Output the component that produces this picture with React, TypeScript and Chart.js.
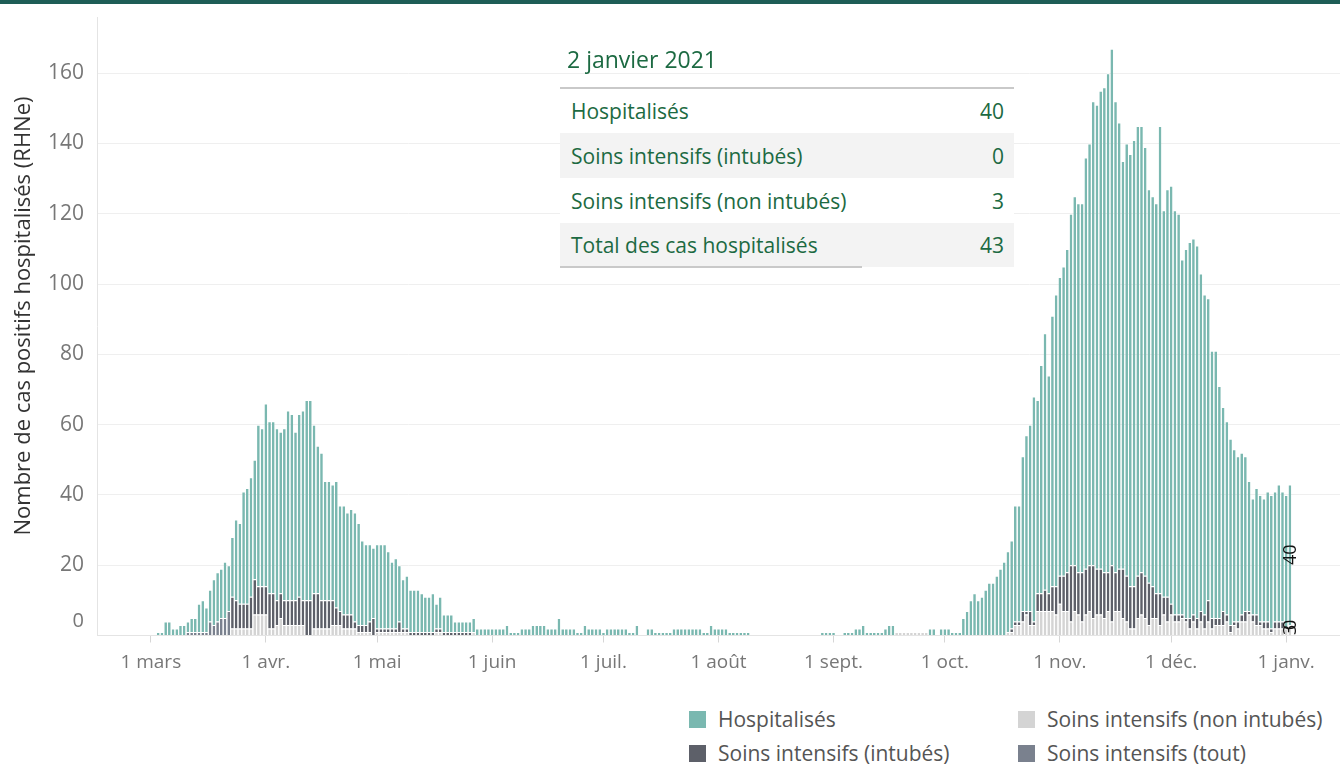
import React, { useEffect, useRef } from "react";
import { Chart, registerables } from "chart.js";

Chart.register(...registerables);

const FONT = "'Open Sans', 'Noto Sans', sans-serif";

// Categories: one per day, from 16 Feb 2020 for DAY_COUNT days
const FIRST_DAY = [2020, 1, 16];
const DAY_COUNT = 335;

const MONTH_TICKS = ["1 janv.", "1 févr.", "1 mars", "1 avr.", "1 mai", "1 juin", "1 juil.", "1 août", "1 sept.", "1 oct.", "1 nov.", "1 déc."];
const MONTH_NAMES = ["janvier", "février", "mars", "avril", "mai", "juin", "juillet", "août", "septembre", "octobre", "novembre", "décembre"];

const Y_TICKS = [0, 20, 40, 60, 80, 100, 120, 140, 160];
const Y_MAX = 176;
const Y_TITLE = "Nombre de cas positifs hospitalisés (RHNe)";

// Daily values, one line per month (févr. 16-29, mars ... janv. 1-2)
const HOSPITALISES = [
  0,0,0,0,0,0,0,0,0,0,0,0,0,0,
  0,0,1,1,4,4,2,2,3,3,3,4,4,8,9,7,9,13,14,14,16,13,17,23,23,32,33,34,34,46,45,
  52,49,49,49,46,49,54,53,48,52,54,57,57,48,42,42,34,34,33,36,30,31,29,30,31,29,24,23,22,20,
  24,24,24,22,19,20,16,14,15,12,12,12,11,10,10,11,7,9,5,5,5,3,3,3,3,3,4,2,2,2,2,
  2,2,2,2,3,1,1,1,2,2,2,3,3,3,3,2,2,2,5,2,2,2,2,1,1,3,2,2,2,2,
  1,2,2,2,2,2,2,1,1,3,0,0,2,2,1,1,1,1,1,2,2,2,2,2,2,2,2,1,1,3,2,
  2,2,2,1,1,1,1,1,1,0,0,0,0,0,0,0,0,0,0,0,0,0,0,0,0,0,0,0,1,1,1,
  1,0,0,1,1,1,2,2,3,1,1,1,1,1,2,3,3,0,0,0,0,0,0,0,0,0,2,2,0,2,
  2,2,1,1,1,5,7,10,12,10,11,13,15,15,17,19,21,23,25,33,33,44,50,53,64,55,65,73,62,77,83,
  85,88,92,100,105,105,105,117,120,132,132,136,138,142,147,134,127,116,123,123,127,128,127,122,112,111,111,133,110,116,
  119,115,114,101,105,107,107,106,96,91,86,76,76,66,58,55,53,49,47,46,44,37,33,36,36,35,37,38,37,39,37,
  38,40,
];

const INTUBES = [
  0,0,0,0,0,0,0,0,0,0,0,0,0,0,
  0,0,0,0,0,0,0,0,0,0,0,0,0,0,0,0,0,0,0,0,0,0,9,8,7,7,7,9,10,8,8,
  8,10,10,7,7,7,7,7,7,8,7,10,10,10,10,8,8,8,7,5,4,4,4,4,2,2,2,2,3,5,
  1,1,1,1,1,1,3,1,1,1,1,1,1,1,1,1,1,1,1,1,1,1,1,1,1,1,0,0,0,0,0,
  0,0,0,0,0,0,0,0,0,0,0,0,0,0,0,0,0,0,0,0,0,0,0,0,0,0,0,0,0,0,
  0,0,0,0,0,0,0,0,0,0,0,0,0,0,0,0,0,0,0,0,0,0,0,0,0,0,0,0,0,0,0,
  0,0,0,0,0,0,0,0,0,0,0,0,0,0,0,0,0,0,0,0,0,0,0,0,0,0,0,0,0,0,0,
  0,0,0,0,0,0,0,0,0,0,0,0,0,0,0,0,0,0,0,0,0,0,0,0,0,0,0,0,0,0,
  0,0,0,0,0,0,0,0,0,0,0,0,0,0,0,0,0,0,1,1,1,3,1,4,1,5,5,6,5,7,8,
  8,10,11,16,13,12,14,13,13,15,13,13,13,11,16,11,12,14,13,12,12,12,12,12,12,9,7,9,5,7,
  3,2,2,1,1,3,2,3,3,4,6,3,2,2,4,2,2,1,2,2,3,1,2,3,1,2,2,1,2,2,2,
  0,0,
];

const NON_INTUBES = [
  0,0,0,0,0,0,0,0,0,0,0,0,0,0,
  0,0,0,0,0,0,0,0,0,0,0,0,0,0,0,0,0,0,0,0,0,0,2,2,2,2,2,2,6,6,6,
  6,2,2,3,5,3,3,3,3,3,3,0,0,2,2,2,2,2,3,3,3,2,2,2,2,1,1,1,1,0,
  1,1,1,1,1,1,1,1,1,0,0,0,0,0,0,0,1,1,0,0,0,0,0,0,0,0,1,0,0,0,0,
  0,0,0,0,0,0,0,0,0,0,0,0,0,0,0,0,0,0,0,0,0,0,0,0,0,0,0,0,0,0,
  0,0,0,0,0,0,0,0,0,0,0,0,0,0,0,0,0,0,0,0,0,0,0,0,0,0,0,0,0,0,0,
  0,0,0,0,0,0,0,0,0,0,0,0,0,0,0,0,0,0,0,0,0,0,0,0,0,0,0,0,0,0,0,
  0,0,0,0,0,0,0,0,0,0,0,0,0,0,0,0,0,1,1,1,1,1,1,1,1,1,0,0,0,0,
  0,0,0,0,0,0,0,0,0,0,0,0,0,0,0,0,0,1,1,3,3,4,6,3,3,7,7,7,7,7,6,
  9,7,7,4,7,6,4,6,7,5,6,6,5,7,4,7,7,5,4,2,2,5,6,5,3,5,5,3,6,4,
  6,4,4,5,4,2,4,2,4,2,4,2,3,3,3,4,1,3,2,4,4,6,4,3,3,2,2,1,2,2,2,
  2,3,
];

const TOUT = [
  0,0,0,0,0,0,0,0,0,0,0,0,0,0,
  0,0,0,0,0,0,0,0,0,0,1,1,1,1,1,1,4,3,4,5,5,7,0,0,0,0,0,0,0,0,0,
];

const COL_HOSP = "#7ab8b0";
const COL_INTUB = "#5d6069";
const COL_NON = "#d4d4d4";
const COL_TOUT = "#7a818e";
const TEXT_GREEN = "#1c6a42";

const DAYS = Array.from({ length: DAY_COUNT }, (_, i) =>
  new Date(Date.UTC(FIRST_DAY[0], FIRST_DAY[1], FIRST_DAY[2] + i))
);
const LABELS = DAYS.map((d) => d.toISOString().slice(0, 10));
const TICK_TEXT = DAYS.map((d) => (d.getUTCDate() === 1 ? MONTH_TICKS[d.getUTCMonth()] : ""));

const CANVAS_W = 1340;
const CANVAS_H = 690;
const PLOT_BOTTOM = 635.5;

const overlayPlugin = {
  id: "overlay",
  afterDraw(chart: any) {
    const { ctx, scales } = chart;
    const y = scales.y;
    // axis title
    ctx.save();
    ctx.fillStyle = "#333";
    ctx.font = `22px ${FONT}`;
    ctx.translate(24, 316);
    ctx.rotate(-Math.PI / 2);
    ctx.textAlign = "center";
    ctx.textBaseline = "middle";
    ctx.fillText(Y_TITLE, 0, 0);
    ctx.restore();
    // zero tick label (raised above the baseline)
    ctx.save();
    ctx.fillStyle = "#777";
    ctx.font = `20px ${FONT}`;
    ctx.textAlign = "right";
    ctx.textBaseline = "middle";
    ctx.fillText("0", 84, y.getPixelForValue(0) - 14);
    ctx.restore();
    // mark labels on the last bar
    const last = HOSPITALISES.length - 1;
    const pairs: [number, number][] = [
      [0, NON_INTUBES[last]],
      [1, INTUBES[last]],
      [3, HOSPITALISES[last]],
    ];
    ctx.save();
    ctx.fillStyle = "#111";
    ctx.font = `18px ${FONT}`;
    ctx.textAlign = "center";
    ctx.textBaseline = "middle";
    for (const [ds, val] of pairs) {
      const el = chart.getDatasetMeta(ds).data[last];
      if (!el) continue;
      const cy = (el.y + el.base) / 2;
      ctx.save();
      ctx.translate(el.x + 1, cy);
      ctx.rotate(-Math.PI / 2);
      ctx.fillText(String(val), 0, 0);
      ctx.restore();
    }
    ctx.restore();
  },
};

export default function App() {
  const ref = useRef<HTMLCanvasElement>(null);

  useEffect(() => {
    document.body.style.margin = "0";
    Chart.defaults.font.family = FONT;
    const series = [
      { label: "Soins intensifs (non intubés)", data: NON_INTUBES, color: COL_NON },
      { label: "Soins intensifs (intubés)", data: INTUBES, color: COL_INTUB },
      { label: "Soins intensifs (tout)", data: TOUT, color: COL_TOUT },
      { label: "Hospitalisés", data: HOSPITALISES, color: COL_HOSP },
    ];
    const chart = new Chart(ref.current as HTMLCanvasElement, {
      type: "bar",
      data: {
        labels: LABELS,
        datasets: series.map((s) => ({
          label: s.label,
          data: s.data,
          backgroundColor: s.color,
          borderColor: "#ffffff",
          borderWidth: { top: 1, right: 0, bottom: 0, left: 0 },
          borderSkipped: false,
          barPercentage: 0.72,
          categoryPercentage: 1,
        })),
      },
      options: {
        responsive: false,
        animation: false,
        devicePixelRatio: 1,
        layout: { padding: { top: 17, left: 0, right: 0, bottom: 0 } },
        plugins: { legend: { display: false }, tooltip: { enabled: false } },
        scales: {
          x: {
            type: "category",
            stacked: true,
            offset: true,
            grid: {
              display: true,
              drawOnChartArea: false,
              drawTicks: true,
              tickLength: 7,
              offset: false,
              color: (c: any) => (TICK_TEXT[c.index] ? "#d6d6d6" : "rgba(0,0,0,0)"),
            },
            border: { display: true, color: "#e4e4e4" },
            ticks: {
              autoSkip: false,
              maxRotation: 0,
              minRotation: 0,
              padding: 9,
              color: "#777",
              font: { family: FONT, size: 19 },
              callback: (_v: any, i: number) => TICK_TEXT[i],
            },
            afterFit: (s: any) => {
              s.height = CANVAS_H - PLOT_BOTTOM;
              s.paddingLeft = 0;
              s.paddingRight = 0;
            },
          },
          y: {
            stacked: true,
            min: 0,
            max: Y_MAX,
            afterBuildTicks: (s: any) => {
              s.ticks = Y_TICKS.map((v) => ({ value: v }));
            },
            grid: { color: "#efefef", drawTicks: false, lineWidth: 1 },
            border: { display: true, color: "#e4e4e4" },
            ticks: {
              padding: 13,
              color: "#777",
              font: { family: FONT, size: 21 },
              callback: (v: any) => (v === 0 ? "" : String(v)),
            },
            afterFit: (s: any) => {
              s.width = 97;
              s.paddingTop = 0;
              s.paddingBottom = 0;
            },
          },
        },
      },
      plugins: [overlayPlugin],
    } as any);
    return () => chart.destroy();
  }, []);

  const last = HOSPITALISES.length - 1;
  const lastDay = DAYS[last];
  const title = `${lastDay.getUTCDate()} ${MONTH_NAMES[lastDay.getUTCMonth()]} ${lastDay.getUTCFullYear()}`;
  const rows: [string, number][] = [
    ["Hospitalisés", HOSPITALISES[last]],
    ["Soins intensifs (intubés)", INTUBES[last]],
    ["Soins intensifs (non intubés)", NON_INTUBES[last]],
    ["Total des cas hospitalisés", HOSPITALISES[last] + INTUBES[last] + NON_INTUBES[last] + (TOUT[last] || 0)],
  ];
  const rowTops = [89, 133, 178, 223];
  const rowHeights = [44, 45, 45, 44];

  const legend = [
    { label: "Hospitalisés", color: COL_HOSP, x: 689, y: 710 },
    { label: "Soins intensifs (non intubés)", color: COL_NON, x: 1018, y: 710 },
    { label: "Soins intensifs (intubés)", color: COL_INTUB, x: 689, y: 744 },
    { label: "Soins intensifs (tout)", color: COL_TOUT, x: 1018, y: 744 },
  ];

  return (
    <div style={{ position: "relative", width: 1340, height: 765, background: "#fff", overflow: "hidden", fontFamily: FONT }}>
      <canvas ref={ref} width={CANVAS_W} height={CANVAS_H} style={{ position: "absolute", left: 0, top: 0, width: CANVAS_W, height: CANVAS_H }} />
      <div style={{ position: "absolute", left: 0, top: 0, width: 1340, height: 4, background: "#1e5d56" }} />
      <div style={{ position: "absolute", left: 567, top: 43, fontSize: 23, lineHeight: "32px", color: TEXT_GREEN, whiteSpace: "nowrap" }}>{title}</div>
      <div style={{ position: "absolute", left: 560, top: 87, width: 454, height: 2, background: "#c9c9c9" }} />
      {rows.map(([name, val], i) => (
        <div
          key={name}
          style={{
            position: "absolute",
            left: 560,
            top: rowTops[i],
            width: 454,
            height: rowHeights[i],
            background: i % 2 === 1 ? "#f3f3f3" : "#ffffff",
            color: TEXT_GREEN,
            fontSize: 21,
            display: "flex",
            alignItems: "center",
            justifyContent: "space-between",
            boxSizing: "border-box",
            padding: "0 10px 0 11px",
            whiteSpace: "nowrap",
          }}
        >
          <span>{name}</span>
          <span>{val}</span>
        </div>
      ))}
      <div style={{ position: "absolute", left: 560, top: 266, width: 302, height: 2, background: "#c9c9c9" }} />
      {legend.map((l) => (
        <div key={l.label} style={{ position: "absolute", left: l.x, top: l.y, height: 18, display: "flex", alignItems: "center", whiteSpace: "nowrap" }}>
          <div style={{ width: 17, height: 17, background: l.color, marginRight: 12 }} />
          <span style={{ fontSize: 21, color: "#555", lineHeight: "18px" }}>{l.label}</span>
        </div>
      ))}
    </div>
  );
}
